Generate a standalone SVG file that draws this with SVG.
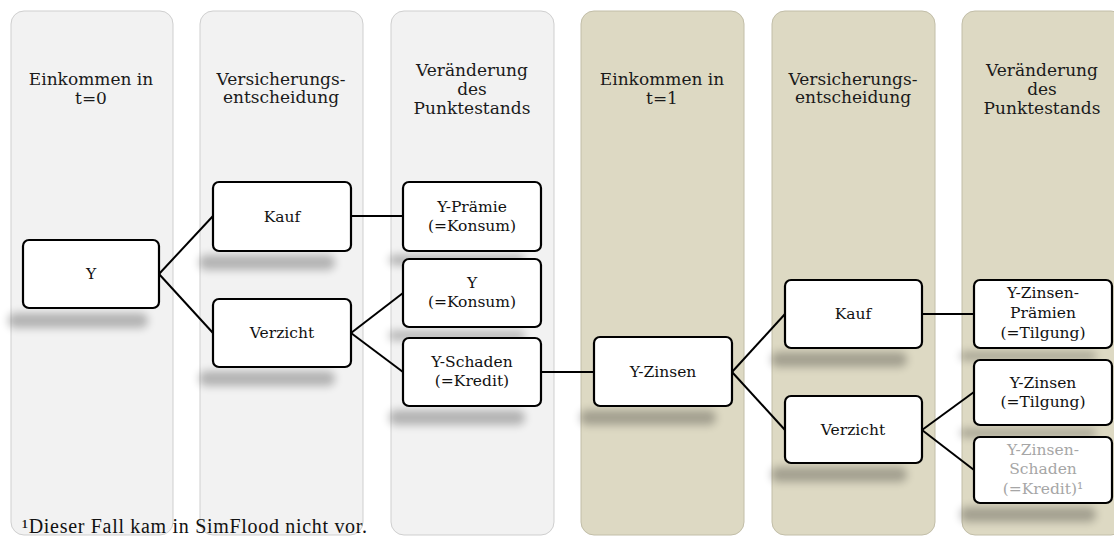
<svg xmlns="http://www.w3.org/2000/svg" width="1114" height="536" viewBox="0 0 1114 536">
<defs>
<filter id="blur" x="-20%" y="-150%" width="140%" height="400%"><feGaussianBlur stdDeviation="4.5"/></filter>
</defs>
<style>
.colg{fill:#f2f2f2;stroke:#cfcfcf;stroke-width:1}
.colb{fill:#ddd9c3;stroke:#c2bea8;stroke-width:1}
.hdr{font-family:"DejaVu Serif","Liberation Serif",serif;font-size:17px;fill:#1a1a1a;text-anchor:middle}
.node rect.box{fill:#fff;stroke:#000;stroke-width:2.2}
.node text{font-family:"DejaVu Serif","Liberation Serif",serif;font-size:15.5px;fill:#111;text-anchor:middle}
.node text.dim{fill:#a6a6a6}
.shadow{fill:#000;opacity:0.26;filter:url(#blur)}
.conn line{stroke:#000;stroke-width:2}
.foot{font-family:"Liberation Serif","Times New Roman",serif;font-size:20px;fill:#111}
</style>
<g id="columns">
<rect class="colg" x="11" y="11" width="162" height="524" rx="13"/>
<rect class="colg" x="200" y="11" width="163" height="524" rx="13"/>
<rect class="colg" x="391" y="11" width="163" height="524" rx="13"/>
<rect class="colb" x="581" y="11" width="163" height="524" rx="13"/>
<rect class="colb" x="772" y="11" width="163" height="524" rx="13"/>
<rect class="colb" x="962" y="11" width="162" height="524" rx="13"/>
</g>
<g id="headers">
<text class="hdr" x="91" y="85">Einkommen in</text>
<text class="hdr" x="91" y="104">t=0</text>
<text class="hdr" x="281" y="85">Versicherungs-</text>
<text class="hdr" x="281" y="103">entscheidung</text>
<text class="hdr" x="472" y="76">Veränderung</text>
<text class="hdr" x="472" y="95">des</text>
<text class="hdr" x="472" y="114">Punktestands</text>
<text class="hdr" x="662" y="85">Einkommen in</text>
<text class="hdr" x="662" y="104">t=1</text>
<text class="hdr" x="853" y="85">Versicherungs-</text>
<text class="hdr" x="853" y="103">entscheidung</text>
<text class="hdr" x="1042" y="76">Veränderung</text>
<text class="hdr" x="1042" y="95">des</text>
<text class="hdr" x="1042" y="114">Punktestands</text>
</g>
<g id="shadows">
<rect class="shadow" x="8" y="313" width="140" height="15" rx="7"/>
<rect class="shadow" x="199" y="255" width="136" height="15" rx="7"/>
<rect class="shadow" x="199" y="371" width="136" height="15" rx="7"/>
<rect class="shadow" x="389" y="255" width="136" height="10" rx="5"/>
<rect class="shadow" x="389" y="331" width="136" height="9" rx="4"/>
<rect class="shadow" x="389" y="410" width="136" height="15" rx="7"/>
<rect class="shadow" x="580" y="410" width="136" height="15" rx="7"/>
<rect class="shadow" x="771" y="352" width="136" height="15" rx="7"/>
<rect class="shadow" x="771" y="467" width="136" height="15" rx="7"/>
<rect class="shadow" x="960" y="352" width="136" height="8" rx="4"/>
<rect class="shadow" x="960" y="429" width="136" height="8" rx="4"/>
<rect class="shadow" x="960" y="507" width="136" height="15" rx="7"/>
</g>
<g id="connectors" class="conn">
<line x1="159" y1="274" x2="213" y2="216"/>
<line x1="159" y1="274" x2="213" y2="333"/>
<line x1="351" y1="216" x2="403" y2="216"/>
<line x1="351" y1="333" x2="403" y2="293"/>
<line x1="351" y1="333" x2="403" y2="372"/>
<line x1="541" y1="372" x2="594" y2="372"/>
<line x1="732" y1="372" x2="785" y2="314"/>
<line x1="732" y1="372" x2="785" y2="430"/>
<line x1="922" y1="314" x2="974" y2="314"/>
<line x1="922" y1="430" x2="974" y2="392"/>
<line x1="922" y1="430" x2="974" y2="470"/>
</g>
<g id="n-y" class="node"><rect class="box" x="23" y="240" width="136" height="68" rx="6"/><text x="91" y="279">Y</text></g>
<g id="n-kauf0" class="node"><rect class="box" x="213" y="182" width="138" height="69" rx="6"/><text x="282" y="222">Kauf</text></g>
<g id="n-verzicht0" class="node"><rect class="box" x="213" y="299" width="138" height="68" rx="6"/><text x="282" y="338">Verzicht</text></g>
<g id="n-praemie" class="node"><rect class="box" x="403" y="182" width="138" height="69" rx="6"/><text x="472" y="212">Y-Prämie</text><text x="472" y="231">(=Konsum)</text></g>
<g id="n-konsum" class="node"><rect class="box" x="403" y="259" width="138" height="68" rx="6"/><text x="472" y="288">Y</text><text x="472" y="307">(=Konsum)</text></g>
<g id="n-schaden" class="node"><rect class="box" x="403" y="338" width="138" height="68" rx="6"/><text x="472" y="367">Y-Schaden</text><text x="472" y="386">(=Kredit)</text></g>
<g id="n-zinsen" class="node"><rect class="box" x="594" y="337" width="138" height="69" rx="6"/><text x="663" y="377">Y-Zinsen</text></g>
<g id="n-kauf1" class="node"><rect class="box" x="785" y="280" width="137" height="68" rx="6"/><text x="853" y="319">Kauf</text></g>
<g id="n-verzicht1" class="node"><rect class="box" x="785" y="396" width="137" height="67" rx="6"/><text x="853" y="435">Verzicht</text></g>
<g id="n-zp" class="node"><rect class="box" x="974" y="280" width="138" height="68" rx="6"/><text x="1043" y="298">Y-Zinsen-</text><text x="1043" y="318">Prämien</text><text x="1043" y="338">(=Tilgung)</text></g>
<g id="n-zt" class="node"><rect class="box" x="974" y="360" width="138" height="65" rx="6"/><text x="1043" y="388">Y-Zinsen</text><text x="1043" y="407">(=Tilgung)</text></g>
<g id="n-zs" class="node"><rect class="box" x="974" y="437" width="138" height="66" rx="6"/><text class="dim" x="1043" y="455">Y-Zinsen-</text><text class="dim" x="1043" y="474">Schaden</text><text class="dim" x="1043" y="494">(=Kredit)¹</text></g>
<text class="foot" x="22" y="533" textLength="345" lengthAdjust="spacing">¹Dieser Fall kam in SimFlood nicht vor.</text>
</svg>
